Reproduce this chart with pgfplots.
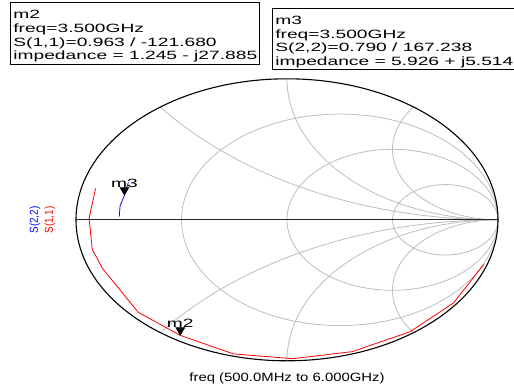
\documentclass[border=0pt]{standalone}
\usepackage{pgfplots}
\pgfplotsset{compat=1.18}
\usepackage{pgfplotstable}
\usepackage{fontspec}
\setmainfont{Liberation Sans}

% downward marker triangle with its tip on the data point
\pgfdeclareplotmark{mkdown}{%
  \pgfpathmoveto{\pgfpoint{0bp}{0bp}}%
  \pgfpathlineto{\pgfpoint{-4.5bp}{7.7bp}}%
  \pgfpathlineto{\pgfpoint{4.5bp}{7.7bp}}%
  \pgfpathclose
  \pgfusepathqfillstroke}

% S(1,1) sweep, reflection coefficient (real, imaginary)
\pgfplotstableread{
re im
-0.907 0.223
-0.938 0.011
-0.923 -0.209
-0.875 -0.344
-0.705 -0.656
-0.5058 -0.8195
-0.254 -0.951
0.0275 -0.985
0.309 -0.935
0.583 -0.794
0.789 -0.590
0.933 -0.316
}\sone

% S(2,2) sweep
\pgfplotstableread{
re im
-0.795 0.022
-0.791 0.100
-0.7705 0.1745
-0.752 0.265
}\stwo

\newcommand{\boxfont}{\fontsize{12bp}{13.8bp}\selectfont}

\begin{document}
\begin{tikzpicture}
\path[use as bounding box] (0bp,0bp) rectangle (514bp,-385bp);

\begin{axis}[
  at={(76bp,-360.8bp)}, anchor=south west,
  width=422bp, height=282bp, scale only axis,
  xmin=-1, xmax=1, ymin=-1, ymax=1,
  hide axis, clip=false,
]
  % impedance grid
  \begin{scope}
    \clip (axis cs:0,0) ellipse [x radius=1, y radius=1];
    \begin{scope}[draw=black!26, line width=0.8bp]
      \draw (axis cs:0.25,0) ellipse [x radius=0.75, y radius=0.75];
      \draw (axis cs:0.5,0) ellipse [x radius=0.5, y radius=0.5];
      \draw (axis cs:0.75,0) ellipse [x radius=0.25, y radius=0.25];
      \draw (axis cs:1,2) ellipse [x radius=2, y radius=2];
      \draw (axis cs:1,-2) ellipse [x radius=2, y radius=2];
      \draw (axis cs:1,1) ellipse [x radius=1, y radius=1];
      \draw (axis cs:1,-1) ellipse [x radius=1, y radius=1];
      \draw (axis cs:1,0.5) ellipse [x radius=0.5, y radius=0.5];
      \draw (axis cs:1,-0.5) ellipse [x radius=0.5, y radius=0.5];
    \end{scope}
  \end{scope}
  \draw[black!85, line width=0.9bp] (axis cs:-1,0) -- (axis cs:1,0);
  \draw[black, line width=1.1bp] (axis cs:0,0) ellipse [x radius=1, y radius=1];

  \addplot[red, line width=0.8bp, mark=none] table[x=re, y=im] {\sone};
  \addplot[blue, line width=0.8bp, mark=none] table[x=re, y=im] {\stwo};

  \addplot[only marks, mark=mkdown, mark options={black, fill=black},
    nodes near coords={m2},
    every node near coord/.append style={anchor=base, yshift=8bp,
      font=\boxfont, xscale=1.6, black}]
    coordinates {(-0.5058,-0.8195)};
  \addplot[only marks, mark=mkdown, mark options={black, fill=black},
    nodes near coords={m3},
    every node near coord/.append style={anchor=base, yshift=8bp,
      font=\boxfont, xscale=1.6, black}]
    coordinates {(-0.7705,0.1745)};
\end{axis}

% marker readouts
\draw[black, line width=0.8bp] (10.5bp,-2.5bp) rectangle (259.5bp,-64bp);
\begin{scope}[every node/.style={anchor=base west, inner sep=0pt, font=\boxfont, xscale=1.6}]
  \node at (13bp,-18.5bp) {m2};
  \node at (13bp,-32.3bp) {freq=3.500GHz};
  \node at (13bp,-46.1bp) {S(1,1)=0.963 / -121.680};
  \node at (13bp,-59.9bp) {impedance = 1.245 - j27.885};
\end{scope}
\draw[black, line width=0.8bp] (272.5bp,-8.5bp) rectangle (530bp,-69bp);
\begin{scope}[every node/.style={anchor=base west, inner sep=0pt, font=\boxfont, xscale=1.6}]
  \node at (275bp,-24.2bp) {m3};
  \node at (275bp,-38bp) {freq=3.500GHz};
  \node at (275bp,-51.8bp) {S(2,2)=0.790 / 167.238};
  \node at (275bp,-65.6bp) {impedance = 5.926 + j5.514};
\end{scope}

% trace labels and sweep range
\node[blue, font=\fontsize{10bp}{11bp}\selectfont, inner sep=0pt, xscale=1.15, rotate=90] at (35bp,-220bp) {S(2,2)};
\node[red, font=\fontsize{10bp}{11bp}\selectfont, inner sep=0pt, xscale=1.15, rotate=90] at (50bp,-220bp) {S(1,1)};
\node[anchor=base, inner sep=0pt, font=\fontsize{12bp}{14bp}\selectfont, xscale=1.24] at (287bp,-381.5bp) {freq (500.0MHz to 6.000GHz)};
\end{tikzpicture}
\end{document}
